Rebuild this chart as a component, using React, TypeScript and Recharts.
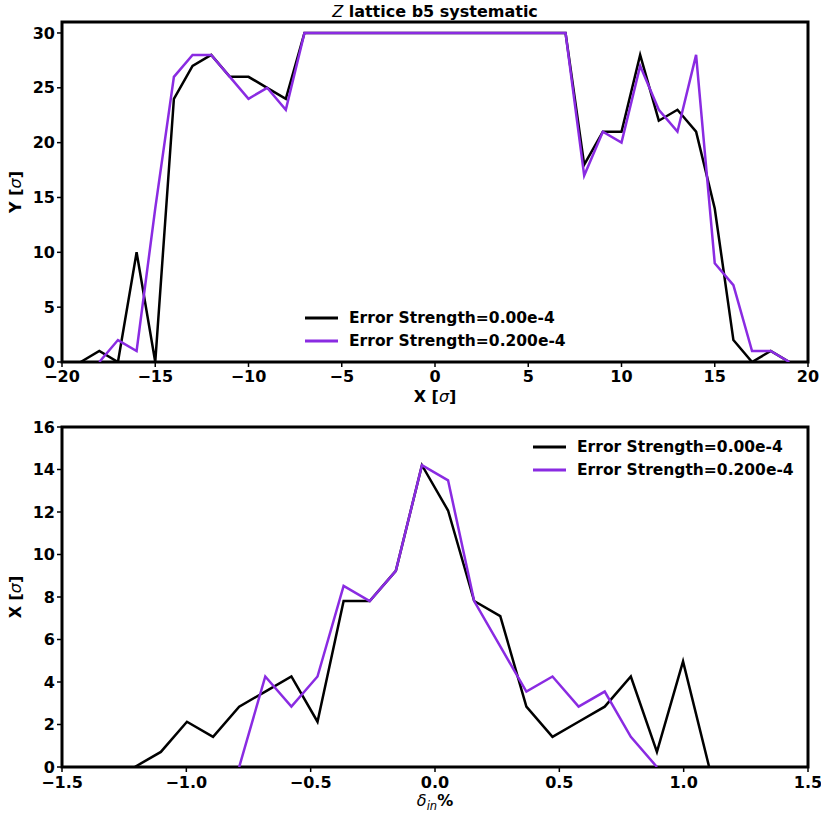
import { LineChart, Line, XAxis, YAxis, ReferenceArea, Legend } from "recharts";

// top panel: beam profile vs X
const topX = [-19, -18, -17, -16, -15, -14, -13, -12, -11, -10, -9, -8, -7, -6, -5, -4, -3, -2, -1, 0, 1, 2, 3, 4, 5, 6, 7, 8, 9, 10, 11, 12, 13, 14, 15, 16, 17, 18, 19];
const topNoError = [0, 1, 0, 10, 0, 24, 27, 28, 26, 26, 25, 24, 30, 30, 30, 30, 30, 30, 30, 30, 30, 30, 30, 30, 30, 30, 30, 18, 21, 21, 28, 22, 23, 21, 14, 2, 0, 1, 0];
const topWithError = [null, 0, 2, 1, 14, 26, 28, 28, 26, 24, 25, 23, 30, 30, 30, 30, 30, 30, 30, 30, 30, 30, 30, 30, 30, 30, 30, 17, 21, 20, 27, 23, 21, 28, 9, 7, 1, 1, 0];
const topXTicks = [-20, -15, -10, -5, 0, 5, 10, 15, 20];
const topYTicks = [0, 5, 10, 15, 20, 25, 30];

// bottom panel: vs momentum deviation
const deltaIn = [-1.2075, -1.1025, -0.9975, -0.8925, -0.7875, -0.6825, -0.5775, -0.4725, -0.3675, -0.2625, -0.1575, -0.0525, 0.0525, 0.1575, 0.2625, 0.3675, 0.4725, 0.5775, 0.6825, 0.7875, 0.8925, 0.9975, 1.1025];
const bottomNoError = [0, 0.71, 2.13, 1.42, 2.84, 3.55, 4.26, 2.13, 7.81, 7.81, 9.23, 14.2, 12.07, 7.81, 7.1, 2.84, 1.42, 2.13, 2.84, 4.26, 0.71, 4.97, 0];
const bottomWithError = [null, null, null, null, 0, 4.26, 2.84, 4.26, 8.52, 7.81, 9.23, 14.2, 13.49, 7.81, 5.68, 3.55, 4.26, 2.84, 3.55, 1.42, 0, null, null];
const bottomXTicks = [-1.5, -1, -0.5, 0, 0.5, 1, 1.5];
const bottomYTicks = [0, 2, 4, 6, 8, 10, 12, 14, 16];

const seriesNames = ["Error Strength=0.00e-4", "Error Strength=0.200e-4"];
const seriesColors = ["#000000", "#8a2be2"];

const FONT = "'DejaVu Sans', sans-serif";
const tickStyle = { fill: "#000", fontSize: 16, fontWeight: "bold" as const, fontFamily: FONT };

const minus = (s: string) => s.replace("-", "\u2212");
const fmtInt = (v: number) => minus(String(v));
const fmt1 = (v: number) => minus(v.toFixed(1));

const topData = topX.map((x, i) => ({ x, a: topNoError[i], b: topWithError[i] }));
const bottomData = deltaIn.map((x, i) => ({ x, a: bottomNoError[i], b: bottomWithError[i] }));

function LegendBox() {
  return (
    <div style={{ fontFamily: FONT, fontWeight: "bold", fontSize: 15.5, lineHeight: "22.5px", width: 270 }}>
      {seriesNames.map((n, i) => (
        <div key={n} style={{ display: "flex", alignItems: "center", whiteSpace: "nowrap" }}>
          <svg width={33} height={22} style={{ marginRight: 11 }}>
            <line x1={0} x2={33} y1={11} y2={11} stroke={seriesColors[i]} strokeWidth={3} />
          </svg>
          <span style={{ color: "#000" }}>{n}</span>
        </div>
      ))}
    </div>
  );
}

export default function App() {
  return (
    <div style={{ position: "absolute", left: 0, top: 0, width: 821, height: 814, background: "#fff" }}>
      <div style={{ position: "absolute", left: 0, top: 0 }}>
        <LineChart width={821} height={410} data={topData} margin={{ top: 22, right: 13, left: 0, bottom: 0 }}>
          <XAxis
            dataKey="x"
            type="number"
            domain={[-20, 20]}
            ticks={topXTicks}
            tickFormatter={fmtInt}
            axisLine={false}
            tickLine={{ stroke: "#000", strokeWidth: 1.5 }}
            tickSize={5}
            tickMargin={4}
            tick={tickStyle}
            height={48}
            allowDataOverflow
          />
          <YAxis
            type="number"
            domain={[0, 31]}
            ticks={topYTicks}
            axisLine={false}
            tickLine={{ stroke: "#000", strokeWidth: 1.5 }}
            tickSize={5}
            tickMargin={2}
            tick={tickStyle}
            width={62}
            allowDataOverflow
          />
          <ReferenceArea x1={-20} x2={20} y1={0} y2={31} fill="none" stroke="#000" strokeWidth={3} />
          {["a", "b"].map((k, i) => (
            <Line
              key={k}
              dataKey={k}
              name={seriesNames[i]}
              stroke={seriesColors[i]}
              strokeWidth={2.5}
              dot={false}
              isAnimationActive={false}
              type="linear"
            />
          ))}
          <Legend
            layout="vertical"
            align="center"
            verticalAlign="middle"
            wrapperStyle={{ position: "absolute", left: 305, top: 307, width: 270 }}
            content={() => <LegendBox />}
          />
        </LineChart>
      </div>
      <div style={{ position: "absolute", left: 0, top: 410 }}>
        <LineChart width={821} height={404} data={bottomData} margin={{ top: 17, right: 13, left: 0, bottom: 0 }}>
          <XAxis
            dataKey="x"
            type="number"
            domain={[-1.5, 1.5]}
            ticks={bottomXTicks}
            tickFormatter={fmt1}
            axisLine={false}
            tickLine={{ stroke: "#000", strokeWidth: 1.5 }}
            tickSize={5}
            tickMargin={5}
            tick={tickStyle}
            height={47}
            allowDataOverflow
          />
          <YAxis
            type="number"
            domain={[0, 16]}
            ticks={bottomYTicks}
            axisLine={false}
            tickLine={{ stroke: "#000", strokeWidth: 1.5 }}
            tickSize={5}
            tickMargin={2}
            tick={tickStyle}
            width={62}
            allowDataOverflow
          />
          <ReferenceArea x1={-1.5} x2={1.5} y1={0} y2={16} fill="none" stroke="#000" strokeWidth={3} />
          {["a", "b"].map((k, i) => (
            <Line
              key={k}
              dataKey={k}
              name={seriesNames[i]}
              stroke={seriesColors[i]}
              strokeWidth={2.5}
              dot={false}
              isAnimationActive={false}
              type="linear"
            />
          ))}
          <Legend
            layout="vertical"
            align="center"
            verticalAlign="middle"
            wrapperStyle={{ position: "absolute", left: 533, top: 26, width: 270 }}
            content={() => <LegendBox />}
          />
        </LineChart>
      </div>
      {/* title and axis labels */}
      <svg width={821} height={814} style={{ position: "absolute", left: 0, top: 0, pointerEvents: "none" }}>
        <text x={435} y={17} textAnchor="middle" fontFamily={FONT} fontSize={16} fontWeight="bold" fill="#000">
          <tspan fontStyle="italic" fontWeight="normal">Z</tspan>
          <tspan> lattice b5 systematic</tspan>
        </text>
        <text x={435} y={402} textAnchor="middle" fontFamily={FONT} fontSize={16} fontWeight="bold" fill="#000">
          X [<tspan fontStyle="italic" fontWeight="normal">σ</tspan>]
        </text>
        <text transform="translate(21,192) rotate(-90)" textAnchor="middle" fontFamily={FONT} fontSize={16} fontWeight="bold" fill="#000">
          Y [<tspan fontStyle="italic" fontWeight="normal">σ</tspan>]
        </text>
        <text transform="translate(21,597) rotate(-90)" textAnchor="middle" fontFamily={FONT} fontSize={16} fontWeight="bold" fill="#000">
          X [<tspan fontStyle="italic" fontWeight="normal">σ</tspan>]
        </text>
        <text x={435} y={806} textAnchor="middle" fontFamily={FONT} fontSize={16} fontWeight="bold" fill="#000">
          <tspan fontStyle="italic" fontWeight="normal">δ</tspan>
          <tspan fontStyle="italic" fontWeight="normal" fontSize={11.5} dy={3.5}>in</tspan>
          <tspan dy={-3.5}>%</tspan>
        </text>
      </svg>
    </div>
  );
}
